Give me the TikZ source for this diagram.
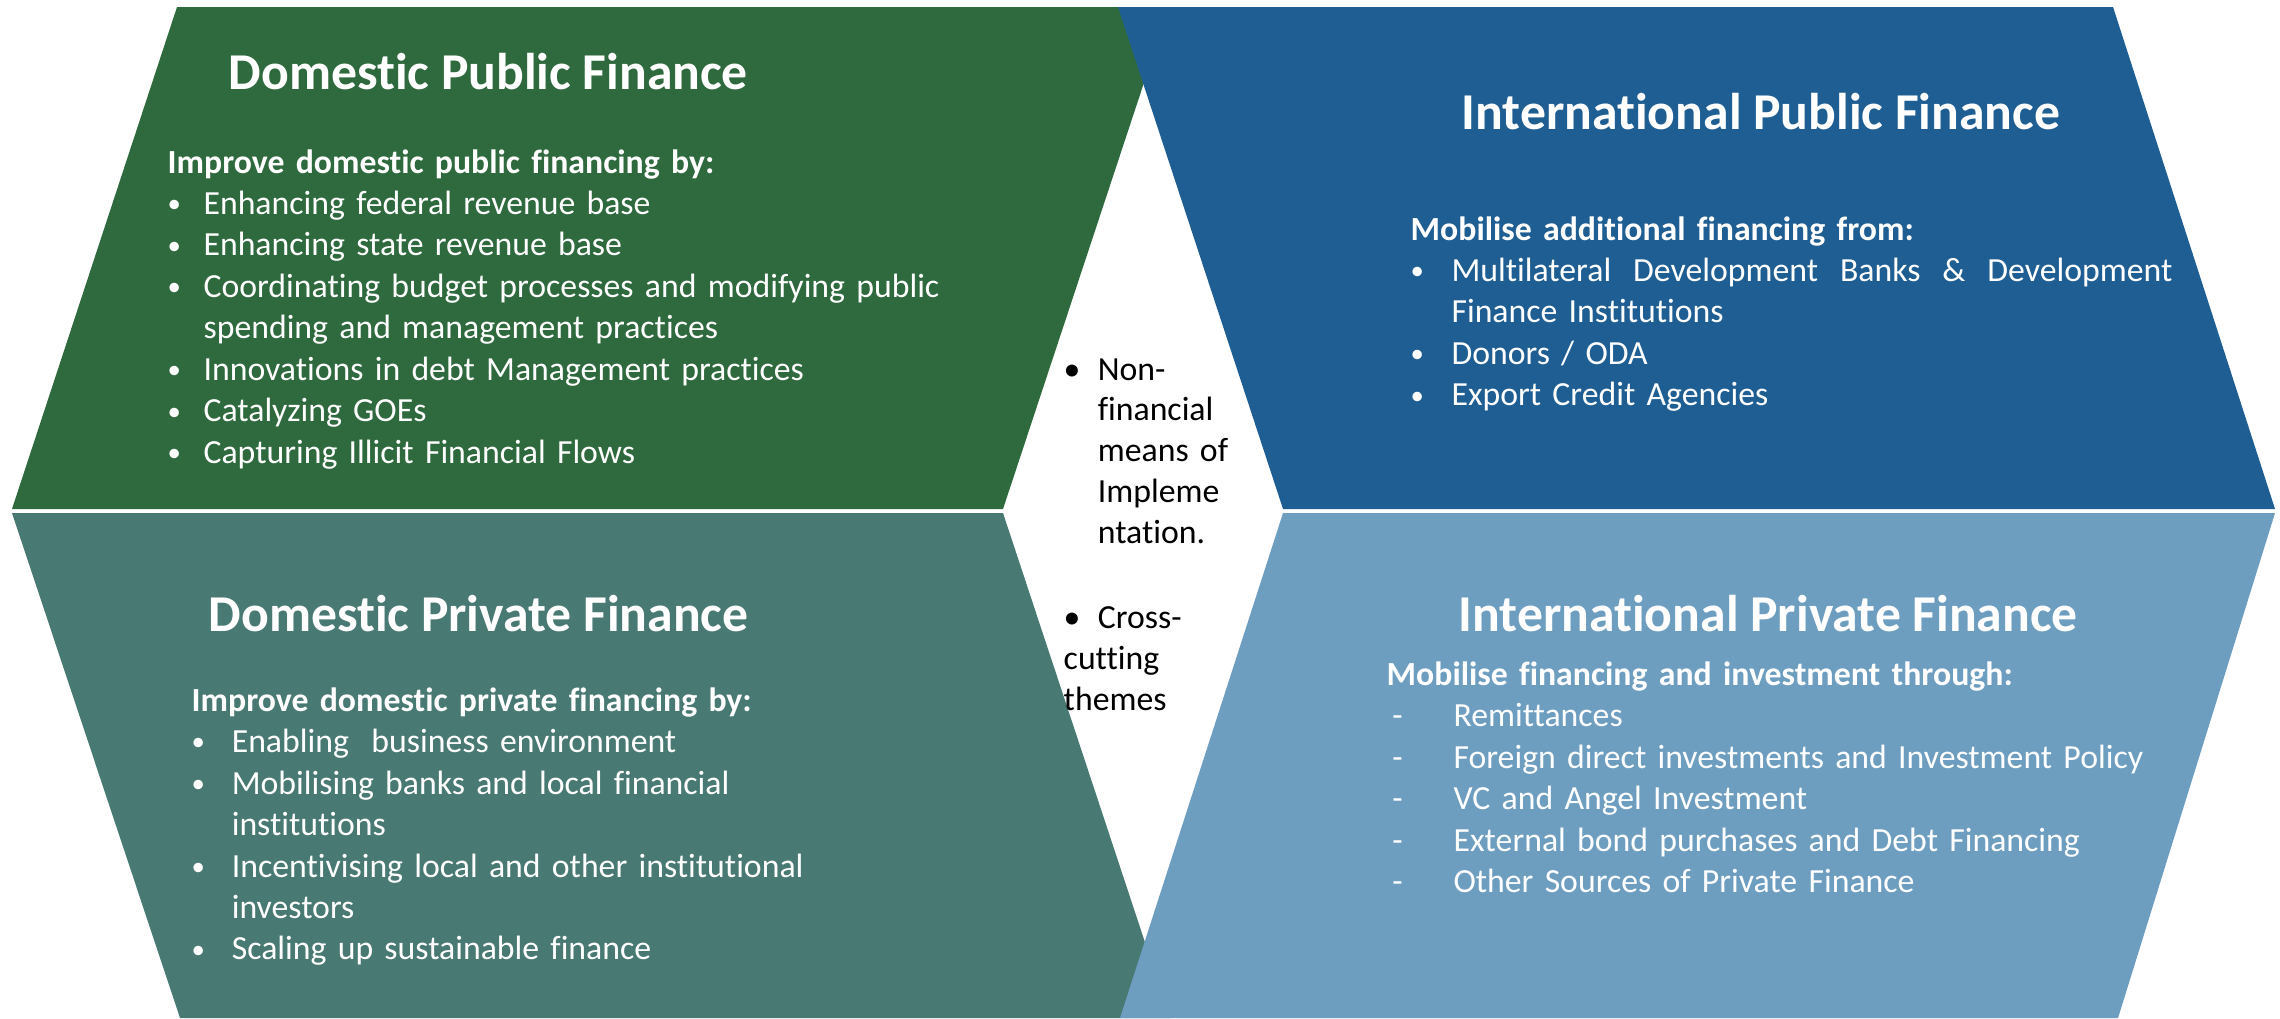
\documentclass[tikz,border=0pt]{standalone}
\usepackage{fontspec}
\setmainfont{Carlito}[Ligatures={NoCommon}]
\usepackage{tikz}
\definecolor{dpgreen}{RGB}{47,105,62}
\definecolor{ipblue}{RGB}{31,94,146}
\definecolor{prteal}{RGB}{73,121,115}
\definecolor{prblue}{RGB}{109,158,192}

\newcommand{\bodysize}{\fontsize{9.6}{11.8}\selectfont}
\newcommand{\bul}{\raisebox{0.5pt}{\fontsize{7.6}{9}\selectfont\textbullet}}
% one list entry: marker, then text hung at #1
\newcommand{\itembody}[3]{\hangindent=#1\hangafter=1\noindent\makebox[#1][l]{#2}#3}
\newcommand{\entry}[3]{\par\itembody{#1}{#2}{#3}}

\begin{document}
\begin{tikzpicture}[x=0.01cm,y=-0.01cm,
	title/.style={anchor=base west,inner sep=0,text=white,font=\fontsize{14.7}{17}\selectfont\bfseries},
	block/.style={anchor=base west,inner sep=0,text width=9cm,text=white,font=\bodysize}]
	\useasboundingbox (0,0) rectangle (2280,1018);

	% panels (upper ones first, the right ones lie over the left ones)
	\fill[dpgreen] (177,7) -- (1169,7) -- (1003,509) -- (12,509) -- cycle;
	\fill[ipblue] (1118,7) -- (2113,7) -- (2275,509) -- (1283,509) -- cycle;
	\fill[prteal] (12,513) -- (1003,513) -- (1170,1018) -- (180,1018) -- cycle;
	\fill[prblue] (1283,513) -- (2275,513) -- (2118,1018) -- (1120,1018) -- cycle;

	% domestic public
	\node[title] (dpf) at (228,89) {Domestic Public Finance};
	\node[block] (dpflist) at (167,173) {\textbf{Improve domestic public financing by:}
		\entry{10.2pt}{\bul}{Enhancing federal revenue base}
		\entry{10.2pt}{\bul}{Enhancing state revenue base}
		\entry{10.2pt}{\bul}{Coordinating budget processes and modifying public\newline spending and management practices}
		\entry{10.2pt}{\bul}{Innovations in debt Management practices}
		\entry{10.2pt}{\bul}{Catalyzing GOEs}
		\entry{10.2pt}{\bul}{Capturing Illicit Financial Flows}};

	% international public
	\node[title] (ipf) at (1461,129) {International Public Finance};
	\node[block] (ipflist) at (1410,240) {\textbf{Mobilise additional financing from:}
		\entry{11.6pt}{\bul}{\makebox[205pt][s]{Multilateral\hfill Development\hfill Banks\hfill \&\hfill Development}\newline Finance Institutions}
		\entry{11.6pt}{\bul}{Donors / ODA}
		\entry{11.6pt}{\bul}{Export Credit Agencies}};

	% domestic private
	\node[title] (dprf) at (208,631) {Domestic Private Finance};
	\node[block] (dprflist) at (191,711) {\textbf{Improve domestic private financing by:}
		\entry{11.4pt}{\bul}{Enabling\ \ business environment}
		\entry{11.4pt}{\bul}{Mobilising banks and local financial\newline institutions}
		\entry{11.4pt}{\bul}{Incentivising local and other institutional\newline investors}
		\entry{11.4pt}{\bul}{Scaling up sustainable finance}};

	% international private
	\node[title] (iprf) at (1458,631) {International Private Finance};
	\node[block] (iprflist) at (1386,685) {\textbf{Mobilise financing and investment through:}
		\entry{19pt}{\hspace*{1.6pt}-}{Remittances}
		\entry{19pt}{\hspace*{1.6pt}-}{Foreign direct investments and Investment Policy}
		\entry{19pt}{\hspace*{1.6pt}-}{VC and Angel Investment}
		\entry{19pt}{\hspace*{1.6pt}-}{External bond purchases and Debt Financing}
		\entry{19pt}{\hspace*{1.6pt}-}{Other Sources of Private Finance}};

	% centre
	\node[block,text=black,text width=3cm,font=\fontsize{9.6}{11.6}\selectfont] (means) at (1063,380) {%
		\itembody{9.7pt}{\textbullet}{Non-\newline financial\newline means of\newline Impleme\newline ntation.}\par\vspace{12.8pt}
		\entry{9.7pt}{\textbullet}{Cross-\newline cutting\newline themes}};
\end{tikzpicture}
\end{document}
